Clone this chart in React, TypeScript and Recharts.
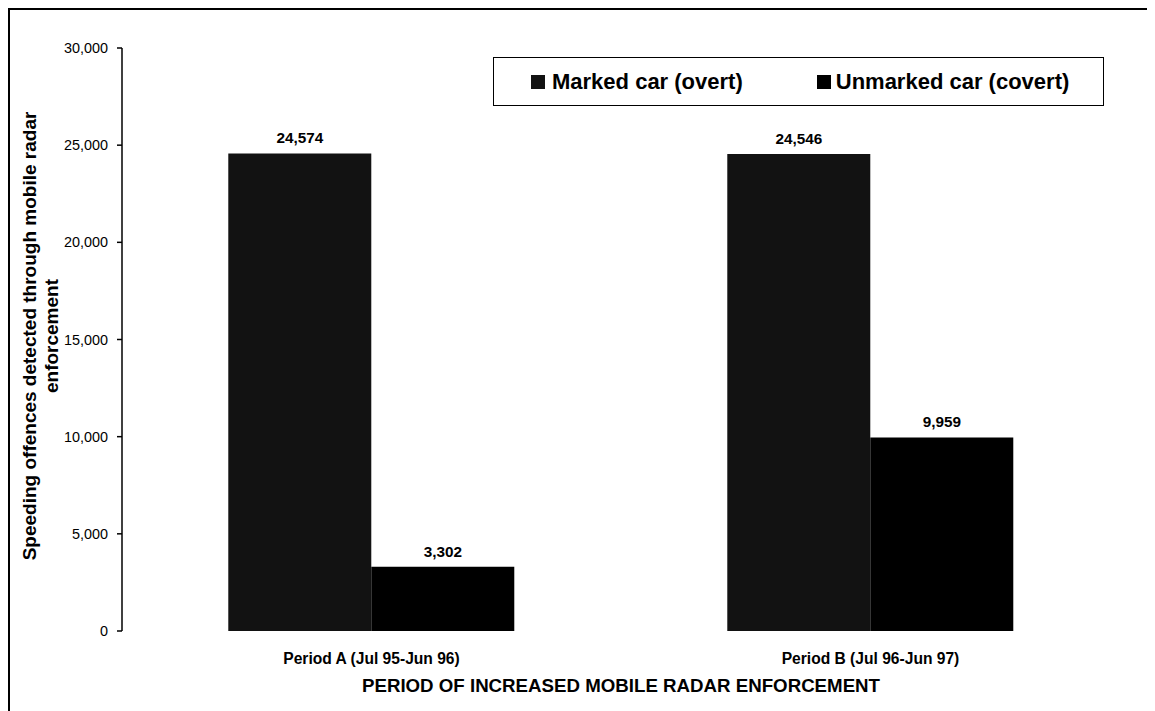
import { BarChart, Bar, XAxis, YAxis, LabelList, Label } from 'recharts'

const periods = ['Period A (Jul 95-Jun 96)', 'Period B (Jul 96-Jun 97)']
const marked = [24574, 24546]
const unmarked = [3302, 9959]
const yTicks = [0, 5000, 10000, 15000, 20000, 25000, 30000]
const seriesNames = ['Marked car (overt)', 'Unmarked car (covert)']
const seriesColors = ['#121212', '#000000']

const data = periods.map((p, i) => ({ period: p, marked: marked[i], unmarked: unmarked[i] }))

const FONT = '"Liberation Sans", Arial, sans-serif'
const fmt = (v: number) => v.toLocaleString('en-US')

function LegendBox() {
  return (
    <div style={{
      position: 'absolute',
      left: 485,
      top: 49,
      width: 611,
      height: 49,
      boxSizing: 'border-box',
      border: '1px solid #000',
      background: '#fff',
      display: 'flex',
      alignItems: 'center',
      fontFamily: FONT,
      fontWeight: 700,
      fontSize: 22,
      color: '#000',
      whiteSpace: 'nowrap',
    }}>
      {seriesNames.map((n, i) => (
        <div key={n} style={{ display: 'flex', alignItems: 'center', marginLeft: i === 0 ? 37 : 74 }}>
          <span style={{ width: 14, height: 14, background: seriesColors[i], marginRight: i === 0 ? 7 : 5, display: 'inline-block' }} />
          {n}
        </div>
      ))}
    </div>
  )
}

// two-line rotated axis title, centred on the plot height
function YTitle() {
  const cy = 328
  return (
    <text transform="rotate(-90)" fontFamily={FONT} fontWeight={700} fontSize={19} fill="#000" textAnchor="middle">
      <tspan x={-cy} y={28}>Speeding offences detected through mobile radar</tspan>
      <tspan x={-cy} y={50}>enforcement</tspan>
    </text>
  )
}

const labelStyle = { fill: '#000', fontSize: 15.3, fontWeight: 700, fontFamily: FONT }

export default function App() {
  return (
    <div style={{ position: 'relative', width: 1147, height: 703 }}>
      <div style={{ position: 'absolute', left: 0, top: 0, right: 0, bottom: 0, borderTop: '2px solid #000', borderLeft: '2px solid #000', pointerEvents: 'none' }} />
      <BarChart
        width={1140}
        height={700}
        data={data}
        margin={{ top: 40, right: 28, bottom: 6, left: 0 }}
        barCategoryGap="21.3%"
        barGap={0}
      >
        {/* numeric helper axis: draws the baseline and the ticks between categories */}
        <XAxis
          xAxisId="grid"
          type="number"
          domain={[0, 2]}
          ticks={[0, 1, 2]}
          allowDataOverflow
          height={0}
          tickSize={5}
          tickFormatter={() => ''}
          axisLine={{ stroke: '#000', strokeWidth: 1.5 }}
          tickLine={{ stroke: '#000', strokeWidth: 1.5 }}
        />
        <XAxis
          xAxisId="cat"
          dataKey="period"
          height={71}
          axisLine={false}
          tickLine={false}
          tickSize={0}
          tickMargin={22}
          tick={{ fill: '#000', fontSize: 15.6, fontWeight: 700, fontFamily: FONT }}
        >
          <Label
            value="PERIOD OF INCREASED MOBILE RADAR ENFORCEMENT"
            position="insideBottom"
            offset={10}
            style={{ fill: '#000', fontSize: 18.7, fontWeight: 700, fontFamily: FONT }}
          />
        </XAxis>
        <YAxis
          width={114}
          domain={[0, 30000]}
          ticks={yTicks}
          tickFormatter={fmt}
          tickSize={5}
          tickMargin={9}
          axisLine={{ stroke: '#000', strokeWidth: 1.5 }}
          tickLine={{ stroke: '#000', strokeWidth: 1.5 }}
          tick={{ fill: '#000', fontSize: 14.4, fontFamily: FONT }}
          label={<YTitle />}
        />
        <Bar xAxisId="cat" dataKey="marked" name={seriesNames[0]} fill={seriesColors[0]} isAnimationActive={false}>
          <LabelList dataKey="marked" position="top" offset={10} formatter={(v: any) => fmt(Number(v))} style={labelStyle} />
        </Bar>
        <Bar xAxisId="cat" dataKey="unmarked" name={seriesNames[1]} fill={seriesColors[1]} isAnimationActive={false}>
          <LabelList dataKey="unmarked" position="top" offset={10} formatter={(v: any) => fmt(Number(v))} style={labelStyle} />
        </Bar>
      </BarChart>
      <LegendBox />
    </div>
  )
}
